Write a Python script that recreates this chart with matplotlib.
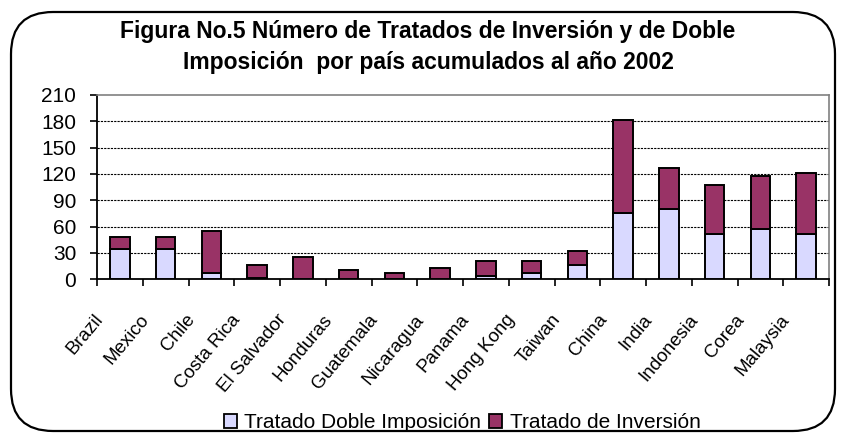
import matplotlib
matplotlib.use("Agg")
import matplotlib.pyplot as plt
from matplotlib.patches import FancyBboxPatch, Patch
from matplotlib.transforms import ScaledTranslation
import numpy as np

plt.rcParams['font.family'] = ['Liberation Sans', 'DejaVu Sans']

countries = ["Brazil", "Mexico", "Chile", "Costa Rica", "El Salvador", "Honduras",
             "Guatemala", "Nicaragua", "Panama", "Hong Kong", "Taiwan", "China",
             "India", "Indonesia", "Corea", "Malaysia"]
doble_imposicion = [34, 34, 7, 2, 0, 0, 0, 0, 4, 7, 16, 75, 80, 52, 57, 52]
inversion = [14, 14, 48, 14, 25, 11, 7, 13, 17, 14, 16, 107, 47, 55, 61, 69]
yticks = [0, 30, 60, 90, 120, 150, 180, 210]

title = "Figura No.5 Número de Tratados de Inversión y de Doble\nImposición  por país acumulados al año 2002"
legend_labels = ["Tratado Doble Imposición", "Tratado de Inversión"]
c_light = "#D9D9FF"
c_dark = "#993366"

fig = plt.figure(figsize=(8.41, 4.34), dpi=100)

# rounded border
border = FancyBboxPatch((11/841, 3/434), 824/841, 419/434,
                        boxstyle="round,pad=0,rounding_size=0.05",
                        transform=fig.transFigure, fill=False, lw=1.6, ec="black",
                        mutation_aspect=841/434)
fig.patches.append(border)

ax = fig.add_axes([97/841, 1-279.3/434, 732/841, 184.3/434])
x = np.arange(len(countries))
w = 0.43
ax.bar(x, doble_imposicion, w, color=c_light, edgecolor="black", lw=1.4, zorder=3)
ax.bar(x, inversion, w, bottom=doble_imposicion, color=c_dark, edgecolor="black", lw=1.4, zorder=3)

ax.set_xlim(-0.5, len(countries)-0.5)
ax.set_ylim(0, 210)
ax.set_yticks(yticks)
ax.tick_params(axis='y', labelsize=15, length=5, width=1.2, direction='out', pad=10)
for v in yticks[1:-1]:
    ax.axhline(v, color="black", lw=0.8, ls=(0, (2, 1)), zorder=1)

ax.set_xticks(x)
ax.set_xticklabels(countries, rotation=50, ha='right', va='top', rotation_mode='anchor', fontsize=13.5)
ax.tick_params(axis='x', which='major', length=0, pad=23)
ax.set_xticks(np.arange(-0.5, len(countries)), minor=True)
ax.tick_params(axis='x', which='minor', length=5, width=1.2, direction='out')
offset = ScaledTranslation(-26/100, 0, fig.dpi_scale_trans)
for lab in ax.get_xticklabels():
    lab.set_transform(lab.get_transform() + offset)

for s in ['top', 'right']:
    ax.spines[s].set_color('#808080')
    ax.spines[s].set_linewidth(1.2)
for s in ['left', 'bottom']:
    ax.spines[s].set_color('black')
    ax.spines[s].set_linewidth(1.3)

fig.text(428/841, 1-47/434, title, ha='center', va='center', fontsize=16.5,
         fontweight='bold', linespacing=1.4)

handles = [Patch(facecolor=c_light, edgecolor='black', lw=1.3),
           Patch(facecolor=c_dark, edgecolor='black', lw=1.3)]
fig.legend(handles, legend_labels, loc='center', bbox_to_anchor=(462/841, 1-423/434),
           ncol=2, frameon=False, fontsize=15, handlelength=0.65, handleheight=0.65,
           handletextpad=0.35, columnspacing=0.35, borderpad=0)

fig.savefig("out.png", dpi=100)
